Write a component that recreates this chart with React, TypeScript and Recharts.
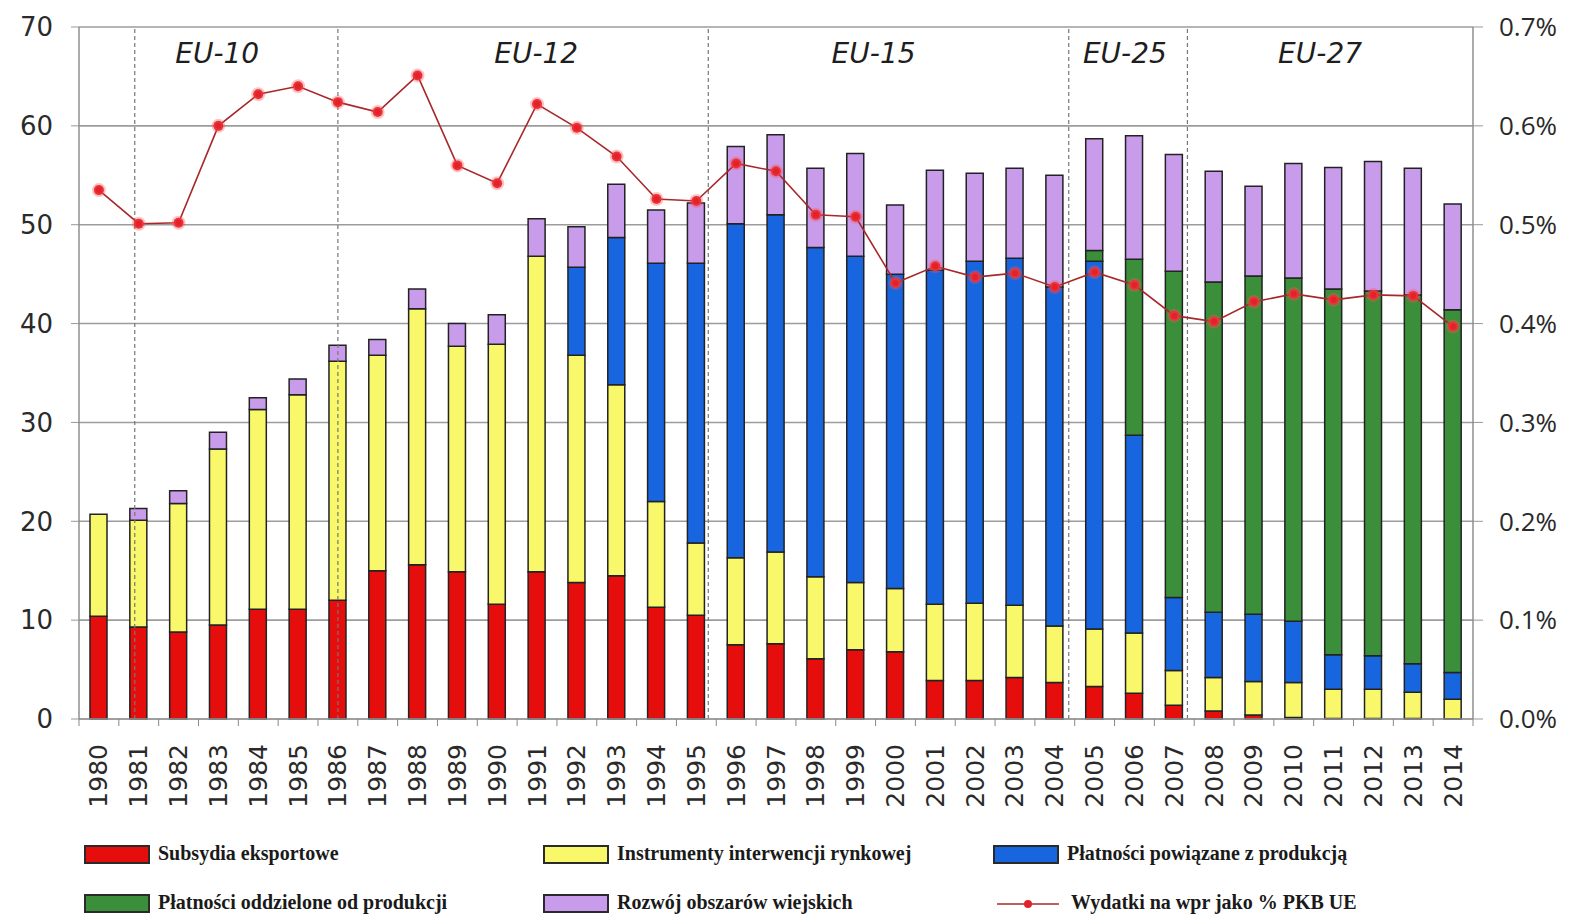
import React from 'react';
import { ComposedChart, Bar, Line, XAxis, YAxis, CartesianGrid, ReferenceLine } from 'recharts';

const years = [
  1980, 1981, 1982, 1983, 1984, 1985, 1986, 1987, 1988, 1989, 1990, 1991, 1992, 1993, 1994, 1995, 1996,
  1997, 1998, 1999, 2000, 2001, 2002, 2003, 2004, 2005, 2006, 2007, 2008, 2009, 2010, 2011, 2012, 2013, 2014,
];

// mld EUR (odczyt z wykresu)
const subsydia = [
  10.4, 9.3, 8.8, 9.5, 11.1, 11.1, 12.0, 15.0, 15.6, 14.9, 11.6, 14.9, 13.8, 14.5, 11.3, 10.5, 7.5,
  7.6, 6.1, 7.0, 6.8, 3.9, 3.9, 4.2, 3.7, 3.3, 2.6, 1.4, 0.8, 0.4, 0.15, 0.05, 0.05, 0.05, 0.03,
];
const interwencja = [
  10.3, 10.8, 13.0, 17.8, 20.2, 21.7, 24.2, 21.8, 25.9, 22.8, 26.3, 31.9, 23.0, 19.3, 10.7, 7.3, 8.8,
  9.3, 8.3, 6.8, 6.4, 7.7, 7.8, 7.3, 5.7, 5.8, 6.1, 3.5, 3.4, 3.4, 3.55, 2.95, 2.95, 2.65, 1.97,
];
const powiazane = [
  0, 0, 0, 0, 0, 0, 0, 0, 0, 0, 0, 0, 8.9, 14.9, 24.1, 28.3, 33.8,
  34.1, 33.3, 33.0, 31.8, 33.8, 34.6, 35.1, 34.3, 37.2, 20.0, 7.4, 6.6, 6.8, 6.2, 3.5, 3.4, 2.9, 2.7,
];
const oddzielone = [
  0, 0, 0, 0, 0, 0, 0, 0, 0, 0, 0, 0, 0, 0, 0, 0, 0,
  0, 0, 0, 0, 0, 0, 0, 0, 1.1, 17.8, 33.0, 33.4, 34.2, 34.7, 37.0, 36.9, 37.3, 36.7,
];
const rozwoj = [
  0, 1.2, 1.3, 1.7, 1.2, 1.6, 1.6, 1.6, 2.0, 2.3, 3.0, 3.8, 4.1, 5.4, 5.4, 6.1, 7.8,
  8.1, 8.0, 10.4, 7.0, 10.1, 8.9, 9.1, 11.3, 11.3, 12.5, 11.8, 11.2, 9.1, 11.6, 12.3, 13.1, 12.8, 10.7,
];
// % PKB UE
const wydatkiPct = [
  0.535, 0.501, 0.502, 0.6, 0.632, 0.64, 0.624, 0.614, 0.651, 0.56, 0.542, 0.622, 0.598, 0.569, 0.526,
  0.524, 0.562, 0.554, 0.51, 0.508, 0.441, 0.458, 0.447, 0.451, 0.437, 0.452, 0.439, 0.408, 0.402,
  0.422, 0.43, 0.424, 0.429, 0.428, 0.397,
];

const leftTicks = [0, 10, 20, 30, 40, 50, 60, 70];
const rightTicks = [0, 0.1, 0.2, 0.3, 0.4, 0.5, 0.6, 0.7];

// granice rozszerzeń UE (pozycja na osi lat)
const enlargements = [1980.9, 1986.0, 1995.3, 2004.35, 2007.33];
const groupNames = ['EU-10', 'EU-12', 'EU-15', 'EU-25', 'EU-27'];
const groupPos = [1982.97, 1990.98, 1999.45, 2005.76, 2010.66];

const COLORS = {
  red: '#e60d0d',
  yellow: '#f8f86a',
  blue: '#1766e0',
  green: '#3b8f3b',
  purple: '#c99ceb',
  line: '#a8282a',
  dot: '#e1222b',
};

const data = years.map((y, i) => ({
  year: y,
  subsydia: subsydia[i],
  interwencja: interwencja[i],
  powiazane: powiazane[i],
  oddzielone: oddzielone[i],
  rozwoj: rozwoj[i],
  pct: wydatkiPct[i],
}));

const W = 1553;
const H = 820;
const LEFT_W = 71;
const RIGHT_W = 88;
const BAND = (W - LEFT_W - RIGHT_W) / years.length;

const YearTick = (props: any) => {
  const { x, y, payload, index } = props;
  return (
    <g>
      <line x1={x - BAND / 2} x2={x - BAND / 2} y1={y - 16} y2={y - 9} stroke="#888" />
      {index === years.length - 1 && (
        <line x1={x + BAND / 2} x2={x + BAND / 2} y1={y - 16} y2={y - 9} stroke="#888" />
      )}
      <text
        x={x}
        y={y + 9}
        transform={`rotate(-90, ${x}, ${y + 9})`}
        textAnchor="end"
        dominantBaseline="central"
        fontSize={25}
        fontFamily="DejaVu Sans"
        fill="#2a2a2a"
      >
        {payload.value}
      </text>
    </g>
  );
};

const legendText: React.CSSProperties = {
  fontFamily: 'Liberation Serif',
  fontWeight: 'bold',
  fontSize: 20,
  lineHeight: '20px',
  color: '#1a1a1a',
  whiteSpace: 'nowrap',
};

const legendItems = [
  { label: 'Subsydia eksportowe', color: COLORS.red, left: 76, top: 833 },
  { label: 'Instrumenty interwencji rynkowej', color: COLORS.yellow, left: 535, top: 833 },
  { label: 'Płatności powiązane z produkcją', color: COLORS.blue, left: 985, top: 833 },
  { label: 'Płatności oddzielone od produkcji', color: COLORS.green, left: 76, top: 882 },
  { label: 'Rozwój obszarów wiejskich', color: COLORS.purple, left: 535, top: 882 },
];

export default function App() {
  return (
    <div style={{ position: 'relative', width: W, height: 906, background: '#fff' }}>
      <ComposedChart
        width={W}
        height={H}
        data={data}
        margin={{ top: 19, right: 0, bottom: 0, left: 0 }}
        barGap={0}
      >
        <CartesianGrid vertical={false} stroke="#9c9c9c" strokeWidth={1.6} yAxisId="left" />
        <XAxis
          dataKey="year"
          type="number"
          domain={[1979.5, 2014.5]}
          ticks={years}
          interval={0}
          height={H - 19 - 692}
          tickLine={false}
          tickSize={0}
          tickMargin={16}
          axisLine={{ stroke: '#999', strokeWidth: 1.6 }}
          tick={<YearTick />}
        />
        <YAxis
          yAxisId="left"
          domain={[0, 70]}
          ticks={leftTicks}
          interval={0}
          width={LEFT_W}
          tickSize={8}
          tickMargin={18}
          tickLine={{ stroke: '#999' }}
          axisLine={{ stroke: '#888', strokeWidth: 1.4 }}
          tick={{ fontSize: 26, fontFamily: 'DejaVu Sans', fill: '#2a2a2a' }}
        />
        <YAxis
          yAxisId="right"
          orientation="right"
          domain={[0, 0.7]}
          ticks={rightTicks}
          interval={0}
          width={RIGHT_W}
          tickSize={10}
          tickMargin={16}
          tickLine={{ stroke: '#999' }}
          axisLine={{ stroke: '#888', strokeWidth: 1.4 }}
          tickFormatter={(v: number) => `${v.toFixed(1)}%`}
          tick={{ fontSize: 26, fontFamily: 'Open Sans', fill: '#2a2a2a', textAnchor: 'start' }}
        />
        {enlargements.map((x) => (
          <ReferenceLine
            key={x}
            x={x}
            yAxisId="left"
            stroke="#777"
            strokeWidth={1.2}
            strokeDasharray="4 3"
          />
        ))}
        {groupNames.map((name, i) => (
          <ReferenceLine
            key={name}
            x={groupPos[i]}
            yAxisId="left"
            stroke="none"
            label={{
              value: name,
              position: 'insideTop',
              offset: 16,
              fontSize: 28,
              fontStyle: 'italic',
              fontFamily: 'DejaVu Sans',
              fill: '#1e1e1e',
            }}
          />
        ))}
        <Bar yAxisId="left" dataKey="subsydia" stackId="a" fill={COLORS.red} stroke="#222" strokeWidth={1.5} barSize={17} isAnimationActive={false} />
        <Bar yAxisId="left" dataKey="interwencja" stackId="a" fill={COLORS.yellow} stroke="#222" strokeWidth={1.5} barSize={17} isAnimationActive={false} />
        <Bar yAxisId="left" dataKey="powiazane" stackId="a" fill={COLORS.blue} stroke="#222" strokeWidth={1.5} barSize={17} isAnimationActive={false} />
        <Bar yAxisId="left" dataKey="oddzielone" stackId="a" fill={COLORS.green} stroke="#222" strokeWidth={1.5} barSize={17} isAnimationActive={false} />
        <Bar yAxisId="left" dataKey="rozwoj" stackId="a" fill={COLORS.purple} stroke="#222" strokeWidth={1.5} barSize={17} isAnimationActive={false} />
        <Line
          yAxisId="right"
          dataKey="pct"
          stroke={COLORS.line}
          strokeWidth={1.6}
          dot={{ r: 5, fill: COLORS.dot, stroke: 'rgba(255,80,80,0.35)', strokeWidth: 4 }}
          isAnimationActive={false}
        />
      </ComposedChart>

      {legendItems.map((it) => (
        <div
          key={it.label}
          style={{ position: 'absolute', left: it.left, top: it.top, display: 'flex', alignItems: 'center' }}
        >
          <div
            style={{
              width: 62,
              height: 15,
              background: it.color,
              border: '2px solid #2a2a2a',
              marginRight: 8,
              marginTop: 4,
            }}
          />
          <span style={legendText}>{it.label}</span>
        </div>
      ))}
      <div style={{ position: 'absolute', left: 985, top: 882, display: 'flex', alignItems: 'center' }}>
        <svg width={70} height={20} style={{ marginRight: 8, marginTop: 4 }}>
          <line x1={4} x2={66} y1={10} y2={10} stroke={COLORS.line} strokeWidth={1.6} />
          <circle cx={35} cy={10} r={4} fill={COLORS.dot} />
        </svg>
        <span style={legendText}>Wydatki na wpr jako % PKB UE</span>
      </div>
    </div>
  );
}
